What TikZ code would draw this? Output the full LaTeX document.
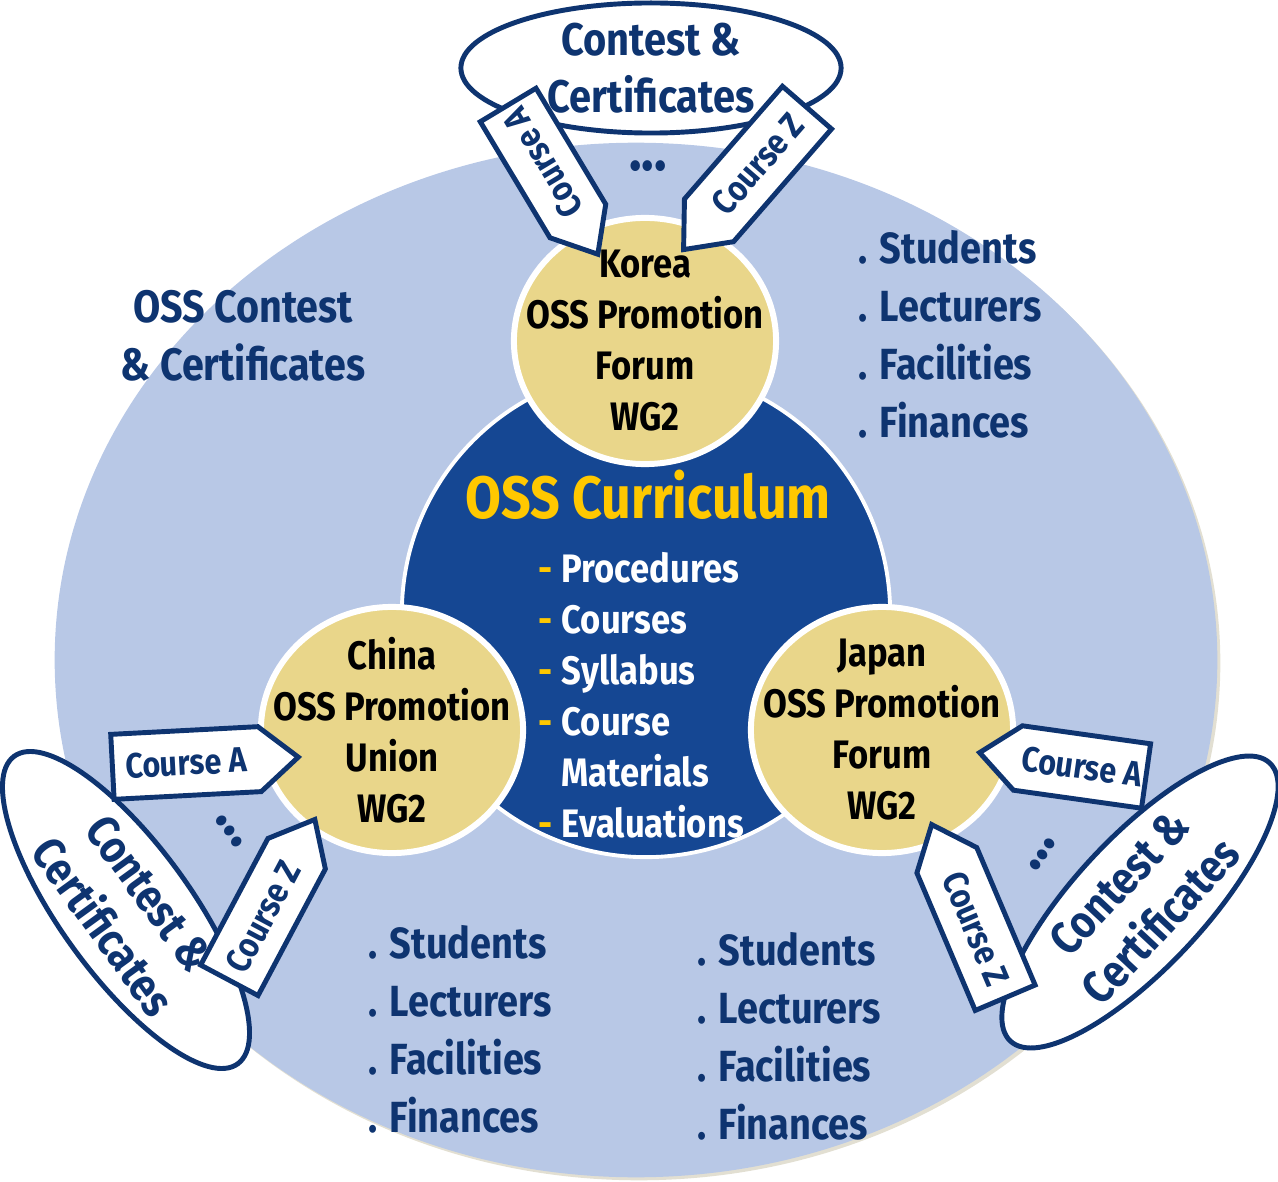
\documentclass[tikz,border=0pt]{standalone}
\usepackage{fontspec}
\setmainfont{Fira Sans}[FakeStretch=0.87]
\usetikzlibrary{shapes.geometric,shapes.symbols}
\definecolor{navy}{RGB}{14,52,112}
\definecolor{paleblue}{RGB}{184,200,230}
\definecolor{deepblue}{RGB}{21,71,147}
\definecolor{sand}{RGB}{233,214,138}
\definecolor{gold}{RGB}{255,200,0}
\definecolor{rim}{RGB}{226,223,210}
\newcommand\ydash{\makebox[0.23cm][l]{\textcolor{gold}{-}}}

\begin{document}
\begin{tikzpicture}[x=0.01cm,y=-0.01cm,
    forum/.style={ellipse,fill=sand,draw=white,line width=1.7pt,
      minimum width=2.62cm,minimum height=2.46cm,inner sep=0pt},
    ftext/.style={align=center,text=black,font=\fontsize{11.3}{14.5}\bfseries\selectfont},
    prize/.style={ellipse,fill=white,draw=navy,line width=1.4pt,
      minimum width=3.8cm,minimum height=1.3cm,inner sep=0pt},
    ptext/.style={align=center,text=navy,font=\fontsize{13}{16.2}\bfseries\selectfont},
    course/.style={signal,fill=white,draw=navy,line width=1.4pt,
      minimum height=0.65cm,inner sep=0pt,signal pointer angle=80,
      text=navy,font=\fontsize{10}{10}\bfseries\selectfont},
    res/.style={align=left,anchor=west,inner sep=0pt,text=navy,
      font=\fontsize{12.4}{16.5}\bfseries\selectfont},
    dots/.style={anchor=base,text=navy,font=\fontsize{17}{17}\bfseries\selectfont}]
    \useasboundingbox (0,0) rectangle (1278,1182);
    % background disc
    \node[ellipse,fill=rim,minimum width=11.62cm,minimum height=10.34cm] (rim) at (639,663) {};
    \node[ellipse,fill=paleblue,minimum width=11.62cm,minimum height=10.34cm] (base) at (636,660) {};
    \node[circle,fill=deepblue,draw=white,line width=1.1pt,minimum size=4.88cm] (curr) at (646,613) {};
    \node[forum] (korea) at (645,341) {};
    \node[forum] (china) at (392,730) {};
    \node[forum] (japan) at (882,730) {};
    \node[ftext] (kname) at (korea) {Korea\\OSS Promotion\\Forum\\WG2};
    \node[ftext] (cname) at (china) {China\\OSS Promotion\\Union\\WG2};
    \node[ftext] (jname) at (japan) {Japan\\OSS Promotion\\Forum\\WG2};
    \node[text=gold,font=\fontsize{17}{18}\bfseries\selectfont] (title) at (648,495) {OSS Curriculum};
    \node[anchor=west,align=left,inner sep=0pt,text=white,
      font=\fontsize{11.3}{14.5}\bfseries\selectfont] (items) at (538,695)
      {\ydash Procedures\\ \ydash Courses\\ \ydash Syllabus\\ \ydash Course\\
       \makebox[0.23cm]{}Materials\\ \ydash Evaluations};
    \node[align=center,text=navy,font=\fontsize{12.9}{16.5}\bfseries\selectfont] (ossc) at (243,336)
      {OSS Contest\\\& Certificates};
    \node[res] (kres) at (858,334) {. Students\\. Lecturers\\. Facilities\\. Finances};
    \node[res] (cres) at (368,1029) {. Students\\. Lecturers\\. Facilities\\. Finances};
    \node[res] (jres) at (697,1036) {. Students\\. Lecturers\\. Facilities\\. Finances};
    % contests
    \node[prize] (kprize) at (651,68) {};
    \node[prize,rotate=-54] (cprize) at (126,910) {};
    \node[prize,rotate=47] (jprize) at (1140,902) {};
    \node[ptext] at (kprize) {Contest \&\\Certificates};
    \node[ptext,rotate=-54] at (cprize) {Contest \&\\Certificates};
    \node[ptext,rotate=47] at (jprize) {Contest \&\\Certificates};
    \node[dots] (kdots) at (648,171) {...};
    \node[dots,rotate=-54] (cdots) at (226,834) {...};
    \node[dots,rotate=54] (jdots) at (1046,857) {...};
    \foreach \n/\x/\y/\r/\d/\l/\t in {kA/543/163/121/west/1.74/Course A,
      kZ/758/164/49/west/1.88/Course Z,
      cA/186/763/3/east/1.86/Course A,cZ/263/917/62/east/1.82/Course Z,
      jA/1082/767/-8/west/1.68/Course A,jZ/976/929/-67/west/1.88/Course Z}{
        \node[course,signal to=\d,rotate=\r,minimum width=\l cm] (\n) at (\x,\y) {\t};
      }
  \end{tikzpicture}
\end{document}
